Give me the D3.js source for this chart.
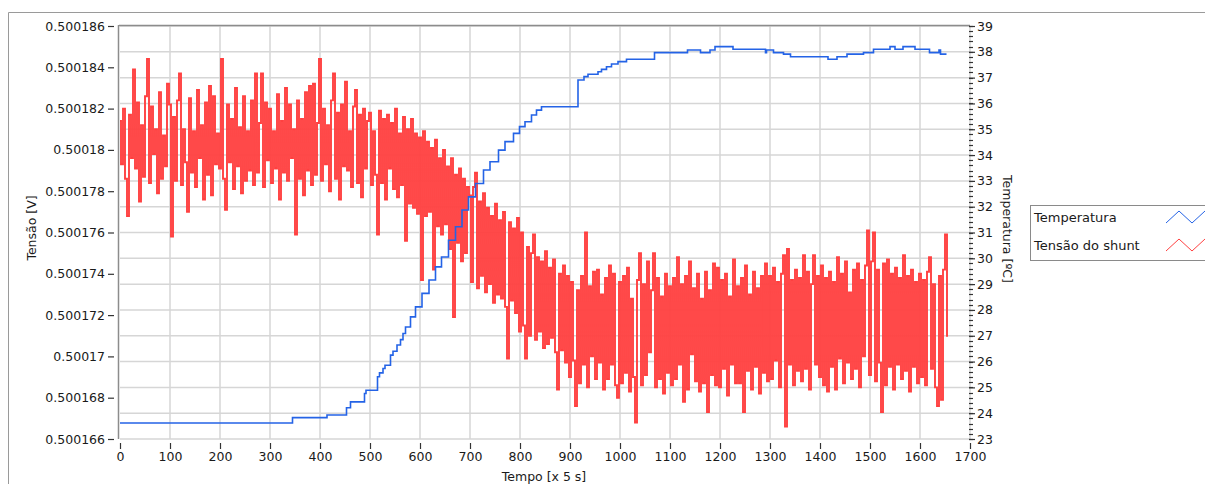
<!DOCTYPE html>
<html>
<head>
<meta charset="utf-8">
<script src="https://cdn.jsdelivr.net/npm/d3@7/dist/d3.min.js"></script>
<style>
  html, body { margin: 0; padding: 0; background: #ffffff; }
  svg { display: block; }
  text { font-family: "DejaVu Sans", Verdana, sans-serif; fill: #1a1a1a; }
</style>
</head>
<body>
<svg id="chart" width="1205" height="484"></svg>
<script>
// ---------------- DATA ----------------
// Time axis (samples, x 5 s)
const xTicks = [0,100,200,300,400,500,600,700,800,900,1000,1100,1200,1300,1400,1500,1600,1700];

// Left axis: Tensão [V]
const voltTicks = [0.500166,0.500168,0.500170,0.500172,0.500174,0.500176,0.500178,0.500180,0.500182,0.500184,0.500186];
const voltTickLabels = ["0.500166","0.500168","0.50017","0.500172","0.500174","0.500176","0.500178","0.50018","0.500182","0.500184","0.500186"];

// Right axis: Temperatura [ºC]
const tempTicks = [23,24,25,26,27,28,29,30,31,32,33,34,35,36,37,38,39];
const tempTickLabels = ["23","24","25","26","27","28","29","30","31","32","33","34","35","36","37","38","39"];

// Series "Temperatura": step changes (sample index, ºC)
const tempIdx = [0,345,414,453,461,489,492,515,519,526,530,541,546,554,561,566,571,581,591,604,618,631,643,657,671,684,697,711,727,740,757,770,787,799,810,823,833,843,916,928,936,956,963,973,983,996,1013,1069,1135,1161,1180,1190,1226,1291,1293,1307,1327,1341,1416,1434,1454,1487,1507,1540,1550,1566,1590,1619,1638,1641,1653];
const tempVal = [23.62,23.83,23.93,24.21,24.44,24.76,24.89,25.41,25.56,25.73,25.86,26.25,26.40,26.64,26.85,27.09,27.34,27.73,28.12,28.64,29.16,29.67,30.05,30.70,31.22,31.87,32.38,32.90,33.42,33.74,34.19,34.52,34.84,35.10,35.29,35.55,35.74,35.87,36.91,37.04,37.13,37.23,37.32,37.42,37.53,37.62,37.71,37.97,38.07,37.97,38.07,38.20,38.10,37.97,38.07,37.97,37.91,37.81,37.71,37.81,37.91,37.97,38.10,38.20,38.10,38.20,38.10,37.97,38.07,37.91,37.91];

// Series "Tensão do shunt": one reading every 4 samples, in µV above 0.5 V
const shuntStep = 4;
const tensaoShunt_uV = [
181.4,179.3,182.0,178.6,176.8,181.7,179.6,183.9,179.1,182.3,177.5,181.2,178.7,182.6,184.4,178.4,182.1,179.8,181.0,177.9,182.8,178.6,180.7,179.2,183.2,
182.2,175.8,181.6,178.5,182.4,183.7,178.3,181.0,179.4,177.0,182.5,178.9,180.9,178.2,182.9,179.6,181.2,177.6,182.3,178.8,183.1,177.8,182.6,179.3,180.8,
179.1,184.4,178.6,177.1,182.2,179.4,181.5,178.1,183.0,179.2,181.1,177.9,182.6,178.5,180.9,179.0,182.4,178.3,183.7,178.9,181.3,183.7,178.2,182.3,179.5,
182.0,178.4,180.9,179.1,182.7,177.6,181.4,178.9,183.0,178.5,182.2,179.6,181.0,175.9,182.4,178.6,181.5,177.8,182.8,179.0,183.1,178.3,183.2,178.8,181.3,
184.4,178.5,182.0,179.3,181.2,178.0,182.4,183.7,178.6,181.8,177.6,182.2,179.2,183.3,179.0,180.9,178.2,182.1,182.9,178.4,181.7,177.7,182.0,179.1,181.4,
181.8,178.3,180.9,178.8,175.9,181.9,178.4,181.5,177.6,181.7,179.1,181.3,178.1,182.0,177.7,180.8,178.3,181.6,175.6,181.0,177.4,181.5,177.2,180.8,176.9,
180.6,173.7,180.9,176.8,180.4,177.0,180.1,174.2,180.5,176.3,179.6,175.9,180.0,176.4,179.2,175.2,179.6,171.9,178.8,175.5,179.1,174.6,178.6,175.0,178.2,
177.8,173.6,178.2,178.9,173.3,177.5,173.9,177.9,173.1,177.2,173.5,176.8,172.6,177.4,173.0,176.6,172.8,177.0,172.4,169.9,176.5,172.7,176.2,172.1,176.7,
171.2,176.0,171.5,169.9,175.3,171.0,175.0,175.9,170.8,174.8,171.2,174.6,170.4,175.1,170.6,174.3,170.9,174.7,170.2,168.4,174.0,170.3,174.4,169.7,173.9,
169.0,173.6,169.8,167.6,173.2,168.7,173.9,169.6,176.0,168.5,173.4,170.0,174.1,168.9,174.2,169.7,173.0,168.4,173.8,168.9,174.4,169.6,174.0,168.6,168.0,
173.6,168.7,173.9,169.2,174.3,168.3,172.8,169.0,166.8,173.7,175.0,168.6,173.5,169.1,174.6,170.2,173.2,175.0,168.5,173.8,168.9,172.9,168.2,174.0,169.2,
173.4,168.6,173.8,168.9,174.8,169.6,173.5,167.8,173.9,168.4,174.6,170.1,173.3,168.8,174.0,168.3,172.8,168.7,174.1,167.3,173.2,169.1,174.5,168.6,174.3,
168.5,173.7,169.4,174.0,168.1,172.9,169.6,174.7,168.7,173.4,168.7,173.8,167.3,174.4,169.3,173.0,168.4,174.1,169.5,173.3,168.2,173.9,169.2,174.5,168.8,
173.9,168.9,174.3,169.8,173.6,168.5,174.0,174.9,166.6,175.2,169.6,173.7,168.6,174.2,169.3,173.8,168.8,174.9,169.4,174.1,168.4,173.5,174.9,169.6,173.9,
169.0,174.4,168.6,173.8,168.3,174.1,169.5,173.6,168.4,174.8,169.9,174.0,168.7,174.6,169.7,173.1,168.9,174.2,169.4,174.5,168.5,173.7,170.0,174.4,176.1,
169.1,174.6,176.0,168.8,174.2,169.7,167.3,174.5,168.6,174.7,169.5,174.0,168.4,174.3,169.6,173.8,168.9,174.9,169.3,173.9,168.3,174.2,169.5,173.6,168.7,
174.0,169.0,173.7,168.6,174.1,174.8,169.4,173.5,168.5,167.6,173.9,167.9,174.2,175.9,171.0
];
const tensaoShunt = tensaoShunt_uV.map(v => 0.5 + v * 1e-6);

const legendItems = ["Temperatura", "Tensão do shunt"];
const seriesColors = ["#2463e6", "#ff4040"];

// ---------------- CHART ----------------
const svg = d3.select("#chart");
const plot = {left: 120, right: 970, top: 26, bottom: 439};

const x = d3.scaleLinear().domain([0, 1700]).range([plot.left, plot.right]);
const yT = d3.scaleLinear().domain([23, 39]).range([plot.bottom, plot.top]);
const yV = d3.scaleLinear().domain([0.500166, 0.500186]).range([plot.bottom, plot.top]);

// outer panel frame
svg.append("path").attr("d", "M8.5,484 V12.5 H1205")
  .attr("fill", "none").attr("stroke", "#9a9a9a").attr("stroke-width", 1);

// plot background
svg.append("rect").attr("x", plot.left).attr("y", plot.top)
  .attr("width", plot.right - plot.left).attr("height", plot.bottom - plot.top)
  .attr("fill", "#ffffff");

// gridlines
const grid = svg.append("g").attr("stroke", "#d6d6d6").attr("stroke-width", 1.5);
grid.selectAll("line.v").data(xTicks.slice(1)).join("line")
  .attr("x1", d => x(d)).attr("x2", d => x(d))
  .attr("y1", plot.top).attr("y2", plot.bottom);
grid.selectAll("line.h").data(tempTicks).join("line")
  .attr("x1", plot.left).attr("x2", plot.right)
  .attr("y1", d => yT(d)).attr("y2", d => yT(d));

// plot border (top + left)
svg.append("line").attr("x1", plot.left - 1).attr("x2", plot.right)
  .attr("y1", plot.top - 0.5).attr("y2", plot.top - 0.5)
  .attr("stroke", "#8c8c8c").attr("stroke-width", 1.5);
svg.append("line").attr("x1", plot.left - 1.5).attr("x2", plot.left - 1.5)
  .attr("y1", plot.top - 1).attr("y2", plot.bottom)
  .attr("stroke", "#8c8c8c").attr("stroke-width", 1.5);

// clip
svg.append("clipPath").attr("id", "clip").append("rect")
  .attr("x", plot.left).attr("y", plot.top - 1)
  .attr("width", plot.right - plot.left).attr("height", plot.bottom - plot.top + 2);

// series: Tensão do shunt (dense samples -> vertical strokes between readings)
const vLine = d3.line()
  .x((d, i) => x(i * shuntStep))
  .y(d => yV(d))
  .curve(d3.curveStep);
svg.append("path").datum(tensaoShunt)
  .attr("clip-path", "url(#clip)")
  .attr("fill", "none").attr("stroke", seriesColors[1]).attr("stroke-width", 1.9)
  .attr("d", vLine);

// series: Temperatura
const tLine = d3.line()
  .x(d => x(d[0])).y(d => yT(d[1]))
  .curve(d3.curveStepAfter);
svg.append("path").datum(tempIdx.map((d, i) => [d, tempVal[i]]))
  .attr("clip-path", "url(#clip)")
  .attr("fill", "none").attr("stroke", seriesColors[0]).attr("stroke-width", 1.6)
  .attr("d", tLine);

// x axis (ticks below, offset)
const xAxis = d3.axisBottom(x).tickValues(xTicks).tickSize(6).tickPadding(3).tickFormat(d3.format("d"));
const gx = svg.append("g").attr("transform", `translate(0,${plot.bottom + 4})`).call(xAxis);
gx.select(".domain").remove();
gx.selectAll(".tick line").attr("stroke", "#333").attr("stroke-width", 1.2);
gx.selectAll(".tick text").style("font-size", "12.5px").attr("fill", "#1a1a1a");

svg.append("text").attr("x", 544).attr("y", 480.5)
  .attr("text-anchor", "middle").style("font-size", "12.5px").text("Tempo [x 5 s]");

// left axis
const yAxisL = d3.axisLeft(yV).tickValues(voltTicks).tickSize(6).tickPadding(3)
  .tickFormat((d, i) => voltTickLabels[i]);
const gl = svg.append("g").attr("transform", `translate(${plot.left - 6},0)`).call(yAxisL);
gl.select(".domain").remove();
gl.selectAll(".tick line").attr("stroke", "#333").attr("stroke-width", 1.2);
gl.selectAll(".tick text").style("font-size", "12.5px").attr("fill", "#1a1a1a");

svg.append("text")
  .attr("transform", "translate(36,228) rotate(-90)")
  .attr("text-anchor", "middle").style("font-size", "12.5px").text("Tensão [V]");

// right axis with minor ticks
const minorTicks = d3.range(23, 39.001, 0.2);
const gm = svg.append("g");
gm.selectAll("line").data(minorTicks).join("line")
  .attr("x1", plot.right - 1).attr("x2", plot.right + 3)
  .attr("y1", d => Math.round(yT(d)) + 0.5).attr("y2", d => Math.round(yT(d)) + 0.5)
  .attr("stroke", "#333").attr("stroke-width", 1.2);
const yAxisR = d3.axisRight(yT).tickValues(tempTicks).tickSize(6).tickPadding(2)
  .tickFormat((d, i) => tempTickLabels[i]);
const gr = svg.append("g").attr("transform", `translate(${plot.right - 1},0)`).call(yAxisR);
gr.select(".domain").remove();
gr.selectAll(".tick line").attr("stroke", "#333").attr("stroke-width", 1.2);
gr.selectAll(".tick text").style("font-size", "12.5px").attr("fill", "#1a1a1a");

svg.append("text")
  .attr("transform", "translate(1003,229) rotate(90)")
  .attr("text-anchor", "middle").style("font-size", "12.5px").text("Temperatura [ºC]");

// legend
const lg = svg.append("g");
lg.append("rect").attr("x", 1030.5).attr("y", 205.5).attr("width", 190).attr("height", 55)
  .attr("fill", "#ffffff").attr("stroke", "#8a8a8a").attr("stroke-width", 1);
legendItems.forEach((name, i) => {
  const cy = 217 + i * 28;
  lg.append("text").attr("x", 1034).attr("y", cy + 5).style("font-size", "13px").text(name);
  lg.append("path")
    .attr("d", `M1166,${cy + 6} L1179,${cy - 6} L1192,${cy + 6} L1205,${cy - 6}`)
    .attr("fill", "none").attr("stroke", seriesColors[i]).attr("stroke-width", 1);
});
</script>
</body>
</html>
